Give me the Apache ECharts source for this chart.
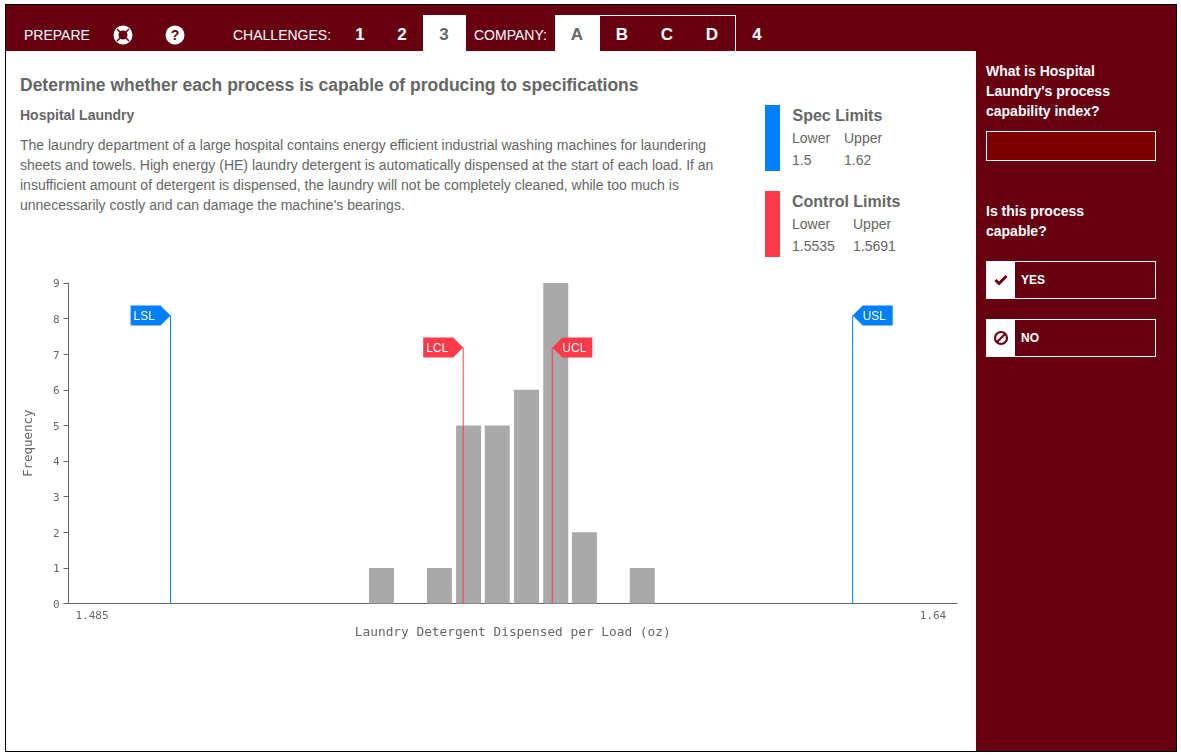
<!DOCTYPE html>
<html>
<head>
<meta charset="utf-8">
<title>Hospital Laundry</title>
<script src="https://cdn.jsdelivr.net/npm/echarts@6/dist/echarts.min.js"></script>
<style>
html, body { margin: 0; padding: 0; background: #fff; overflow: hidden; }
body { width: 1181px; height: 755px; position: relative; font-family: "Liberation Sans", Arial, sans-serif; color: #666; }
.abs { position: absolute; white-space: nowrap; }
#frame { left: 5px; top: 4px; width: 1170px; height: 746px; border: 1px solid #000; }
#header { left: 6px; top: 5px; width: 1170px; height: 46px; background: #660011; }
#side { left: 976px; top: 51px; width: 200px; height: 700px; background: #660011; }
.tab { top: 15px; height: 36px; background: #fff; }
.nav { color: #fff; font-size: 14px; top: 27px; line-height: 16px; }
.num { color: #fff; font-size: 17px; font-weight: bold; top: 25px; line-height: 20px; width: 30px; text-align: center; }
.q { color: #fff; font-size: 14px; font-weight: bold; line-height: 20px; left: 986px; }
.btn { left: 986px; width: 168px; height: 36px; border: 1px solid #fff; }
.btn i { position: absolute; left: 0; top: 0; width: 28px; height: 36px; background: #fff; }
.btn svg { position: absolute; left: 6px; top: 10px; }
.btn span { position: absolute; left: 34px; top: 10px; color: #fff; font-size: 12px; font-weight: bold; line-height: 16px; }
.lim-t { font-size: 16px; font-weight: bold; line-height: 20px; }
.lim { font-size: 14px; line-height: 18px; }
#chart { position: absolute; left: 6px; top: 260px; width: 970px; height: 400px; }
</style>
</head>
<body>
<div class="abs" id="frame"></div>
<div class="abs" id="header"></div>
<div class="abs" id="side"></div>

<div class="abs nav" style="left:24px">PREPARE</div>
<svg class="abs" style="left:113px;top:25px" width="20" height="20" viewBox="0 0 20 20">
  <circle cx="10" cy="10" r="7" fill="none" stroke="#fff" stroke-width="5"/>
  <g stroke="#660011" stroke-width="1.5"><path d="M4 4l3.5 3.5M16 4l-3.5 3.5M4 16l3.5-3.5M16 16l-3.5-3.5"/></g>
</svg>
<svg class="abs" style="left:165px;top:25px" width="20" height="20" viewBox="0 0 20 20">
  <circle cx="10" cy="10" r="9.5" fill="#fff"/>
  <text x="10" y="15" text-anchor="middle" font-size="14" font-weight="bold" font-family="Liberation Sans" fill="#660011">?</text>
</svg>
<div class="abs nav" style="left:233px">CHALLENGES:</div>
<div class="abs num" style="left:345px">1</div>
<div class="abs num" style="left:387px">2</div>
<div class="abs tab" style="left:423px;width:43px"></div>
<div class="abs num" style="left:429px;color:#666">3</div>
<div class="abs nav" style="left:474px">COMPANY:</div>
<div class="abs" style="left:600px;top:15px;width:135px;height:36px;border-top:1px solid #fff;border-right:1px solid #fff"></div>
<div class="abs tab" style="left:555px;width:45px"></div>
<div class="abs num" style="left:562px;color:#666">A</div>
<div class="abs num" style="left:607px">B</div>
<div class="abs num" style="left:652px">C</div>
<div class="abs num" style="left:697px">D</div>
<div class="abs num" style="left:742px">4</div>

<div class="abs" style="left:20px;top:74px;font-size:17.5px;font-weight:bold;line-height:22px">Determine whether each process is capable of producing to specifications</div>
<div class="abs" style="left:20px;top:107px;font-size:14px;font-weight:bold;line-height:16px">Hospital Laundry</div>
<div class="abs" style="left:20px;top:135px;font-size:14px;line-height:20px">The laundry department of a large hospital contains energy efficient industrial washing machines for laundering<br>sheets and towels. High energy (HE) laundry detergent is automatically dispensed at the start of each load. If an<br>insufficient amount of detergent is dispensed, the laundry will not be completely cleaned, while too much is<br>unnecessarily costly and can damage the machine's bearings.</div>

<div class="abs" style="left:765px;top:105px;width:15px;height:66px;background:#007fff"></div>
<div class="abs lim-t" style="left:792.5px;top:106px">Spec Limits</div>
<div class="abs lim" style="left:792px;top:129px">Lower</div>
<div class="abs lim" style="left:844px;top:129px">Upper</div>
<div class="abs lim" style="left:792px;top:151px">1.5</div>
<div class="abs lim" style="left:844px;top:151px">1.62</div>

<div class="abs" style="left:765px;top:191px;width:15px;height:66px;background:#fc3a4a"></div>
<div class="abs lim-t" style="left:792px;top:192px">Control Limits</div>
<div class="abs lim" style="left:792px;top:215px">Lower</div>
<div class="abs lim" style="left:853px;top:215px">Upper</div>
<div class="abs lim" style="left:792px;top:237px">1.5535</div>
<div class="abs lim" style="left:853px;top:237px">1.5691</div>

<div class="abs q" style="top:61px">What is Hospital<br>Laundry's process<br>capability index?</div>
<div class="abs" style="left:986px;top:131px;width:168px;height:28px;border:1px solid #fff;background:#7c0000"></div>
<div class="abs q" style="top:201px">Is this process<br>capable?</div>
<div class="abs btn" style="top:261px"><i></i>
  <svg width="16" height="16" viewBox="0 0 16 16"><path d="M2.5 8l3.5 3.5 7.5-7.5" fill="none" stroke="#660011" stroke-width="3"/></svg>
  <span>YES</span></div>
<div class="abs btn" style="top:319px"><i></i>
  <svg width="16" height="16" viewBox="0 0 16 16"><circle cx="8" cy="8" r="6" fill="none" stroke="#660011" stroke-width="2.2"/><path d="M4 12l8-8" stroke="#660011" stroke-width="2.2"/></svg>
  <span>NO</span></div>

<div id="chart"></div>

<script>
var xMin = 1.485
var xMax = 1.64
var xTickLabels = ['1.485', '1.64']
// where those two labels sit along the axis (they are inset from the ends)
var xTickAnchors = [1.4891, 1.6358]
var yTicksMax = 9

var binCenters = [1.5396, 1.5497, 1.5548, 1.5598, 1.5649, 1.5700, 1.5750, 1.5851]
var binCounts = [1, 1, 5, 5, 6, 9, 2, 1]

// limit lines
var limitNames = ['LSL', 'LCL', 'UCL', 'USL']
var limitPositions = [1.5028, 1.55385, 1.5694, 1.6218]
var limitTops = [8.09, 7.19, 7.19, 8.09]
var limitColors = ['#007fff', '#fc3a4a', '#fc3a4a', '#007fff']
var limitSides = ['left', 'left', 'right', 'right']

var monoFont = '"DejaVu Sans Mono", monospace'
var flagLeft = 'path://M0 0L30 0L40 10L30 20L0 20Z'
var flagRight = 'path://M10 0L40 0L40 20L10 20L0 10Z'

var myChart = echarts.init(document.getElementById('chart'))

var series = [{
	type: 'bar',
	barWidth: 25,
	itemStyle: { color: '#a9a9a9' },
	data: binCenters.map(function (c, i) { return [c, binCounts[i]] }),
	z: 2
}]

limitNames.forEach(function (name, i) {
	var isLeft = limitSides[i] === 'left'
	series.push({
		type: 'line',
		symbol: 'none',
		lineStyle: { color: limitColors[i], width: 1 },
		data: [[limitPositions[i], 0], [limitPositions[i], limitTops[i]]],
		z: 3
	})
	series.push({
		type: 'scatter',
		symbol: isLeft ? flagLeft : flagRight,
		symbolSize: [40, 20],
		symbolOffset: [isLeft ? -20 : 20, 0],
		itemStyle: { color: limitColors[i], opacity: 1 },
		label: {
			show: true,
			formatter: name,
			position: [isLeft ? 3 : 10, 11],
			align: 'left',
			verticalAlign: 'middle',
			color: '#fff',
			fontSize: 12,
			fontFamily: '"Liberation Sans", Arial, sans-serif'
		},
		labelLayout: { hideOverlap: false },
		data: [[limitPositions[i], limitTops[i]]],
		z: 4
	})
})

var option = {
	animation: false,
	grid: { left: 62.5, right: 19, top: 23, height: 320.5, containLabel: false },
	xAxis: {
		type: 'value',
		min: xMin,
		max: xMax,
		name: 'Laundry Detergent Dispensed per Load (oz)',
		nameLocation: 'middle',
		nameGap: 19,
		nameTextStyle: { color: '#666', fontFamily: monoFont, fontSize: 12.8 },
		axisLine: { show: true, lineStyle: { color: '#666', width: 1 } },
		axisTick: { show: false },
		splitLine: { show: false },
		axisLabel: {
			customValues: xTickAnchors,
			formatter: function (v) { return xTickLabels[xTickAnchors.indexOf(v)] },
			margin: 7,
			color: '#666',
			fontFamily: monoFont,
			fontSize: 11
		}
	},
	yAxis: {
		type: 'value',
		min: 0,
		max: yTicksMax,
		interval: 1,
		name: 'Frequency',
		nameLocation: 'middle',
		nameGap: 33,
		nameTextStyle: { color: '#666', fontFamily: monoFont, fontSize: 12.5 },
		axisLine: { show: true, lineStyle: { color: '#666', width: 1 } },
		axisTick: { show: true, length: 5, lineStyle: { color: '#666' } },
		splitLine: { show: false },
		axisLabel: { margin: 9, verticalAlign: 'top', lineHeight: 3, color: '#666', fontFamily: monoFont, fontSize: 11 }
	},
	series: series
}
myChart.setOption(option)
</script>
</body>
</html>
